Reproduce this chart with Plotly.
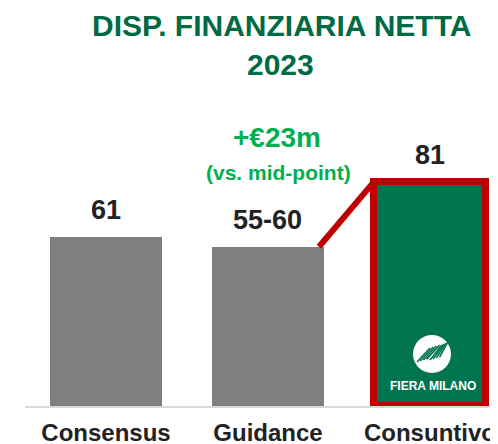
import plotly.graph_objects as go

# ---- data ----
categories = ["Consensus", "Guidance", "Consuntivo"]
values = [61, 57.5, 81]
value_labels = ["61", "55-60", "81"]
title_lines = ["DISP. FINANZIARIA NETTA", "2023"]
delta_text = "+€23m"
delta_sub = "(vs. mid-point)"
logo_text = "FIERA MILANO"

# ---- style ----
FONT = "Liberation Sans, Arial, sans-serif"
GRAY = "#7F7F7F"
GREEN = "#00744F"
RED = "#C00000"
TITLE_GREEN = "#006A45"
BRIGHT_GREEN = "#00B050"
TEXT = "#222222"
OFF = 8  # page body margin
W, H = 498 - OFF, 444 - OFF
L, R, T, B = 25 - OFF, 0, 100 - OFF, 38
BAR_W = 0.69
YMAX = 110.45


def px(xp):
    # xp given in window pixels
    return (xp - OFF - L) / (W - L - R)


def py(yp):
    return (H - B - (yp - OFF)) / (H - T - B)


fig = go.Figure()
fig.add_trace(go.Bar(
    x=list(range(len(categories))),
    y=values,
    width=BAR_W,
    marker=dict(
        color=[GRAY, GRAY, GREEN],
        line=dict(color=["rgba(0,0,0,0)", "rgba(0,0,0,0)", RED], width=[0, 0, 7]),
    ),
    hoverinfo="skip",
))

# value labels
for i, (v, t) in enumerate(zip(values, value_labels)):
    fig.add_annotation(x=i, y=v, text=t, showarrow=False, yanchor="middle",
                       yshift=27, font=dict(family=FONT, size=27, color=TEXT, weight="bold"))

# connector red line guidance -> consuntivo
fig.add_shape(type="line", xref="x", yref="y",
              x0=1 + BAR_W / 2 - 0.03, y0=values[1],
              x1=2 - BAR_W / 2, y1=values[2],
              line=dict(color=RED, width=6), layer="above")

# title
fig.add_annotation(xref="paper", yref="paper", x=px(281), y=py(26), text=title_lines[0],
                   showarrow=False, xanchor="center", yanchor="middle",
                   font=dict(family=FONT, size=30, color=TITLE_GREEN, weight="bold"))
fig.add_annotation(xref="paper", yref="paper", x=px(280), y=py(65), text=title_lines[1],
                   showarrow=False, xanchor="center", yanchor="middle",
                   font=dict(family=FONT, size=30, color=TITLE_GREEN, weight="bold"))

# delta annotation
fig.add_annotation(xref="paper", yref="paper", x=px(277), y=py(137), text=delta_text,
                   showarrow=False, xanchor="center", yanchor="middle",
                   font=dict(family=FONT, size=28, color=BRIGHT_GREEN, weight="bold"))
fig.add_annotation(xref="paper", yref="paper", x=px(278), y=py(172), text=delta_sub,
                   showarrow=False, xanchor="center", yanchor="middle",
                   font=dict(family=FONT, size=21, color=BRIGHT_GREEN, weight="bold"))

# logo: white circle with green stripes + text
cx, cy, r = 432, 354, 19
fig.add_shape(type="circle", xref="paper", yref="paper",
              x0=px(cx - r), x1=px(cx + r), y0=py(cy + r), y1=py(cy - r),
              fillcolor="white", line=dict(width=0), layer="above")
for k in range(4):
    o = k * 3.2
    fig.add_shape(type="line", xref="paper", yref="paper",
                  x0=px(cx - 15 + o), y0=py(cy + 8 - o * 0.3),
                  x1=px(cx - 2 + o), y1=py(cy - 6 - o * 0.3),
                  line=dict(color=GREEN, width=1.6), layer="above")
    fig.add_shape(type="line", xref="paper", yref="paper",
                  x0=px(cx - 2 + o), y0=py(cy + 6 - o * 0.3),
                  x1=px(cx + 10 + o * 0.6), y1=py(cy - 9 - o * 0.3),
                  line=dict(color=GREEN, width=1.6), layer="above")
fig.add_annotation(xref="paper", yref="paper", x=px(433), y=py(386), text=logo_text,
                   showarrow=False, xanchor="center", yanchor="middle",
                   font=dict(family=FONT, size=12, color="white", weight="bold"))

fig.update_layout(
    width=W, height=H,
    margin=dict(l=L, r=R, t=T, b=B),
    paper_bgcolor="white", plot_bgcolor="white",
    showlegend=False,
    bargap=0,
)
fig.update_xaxes(
    range=[-0.5, 2.42],
    tickvals=list(range(len(categories))), ticktext=categories,
    tickfont=dict(family=FONT, size=24, color=TEXT, weight="bold"),
    showgrid=False, zeroline=False, ticks="", ticklabelstandoff=4,
    automargin=False,
    showline=True, linecolor="#D9D9D9", linewidth=2, layer="below traces",
)
fig.update_yaxes(range=[0, YMAX], visible=False, showgrid=False, zeroline=False,
                 automargin=False)

fig.write_html("out.html")
